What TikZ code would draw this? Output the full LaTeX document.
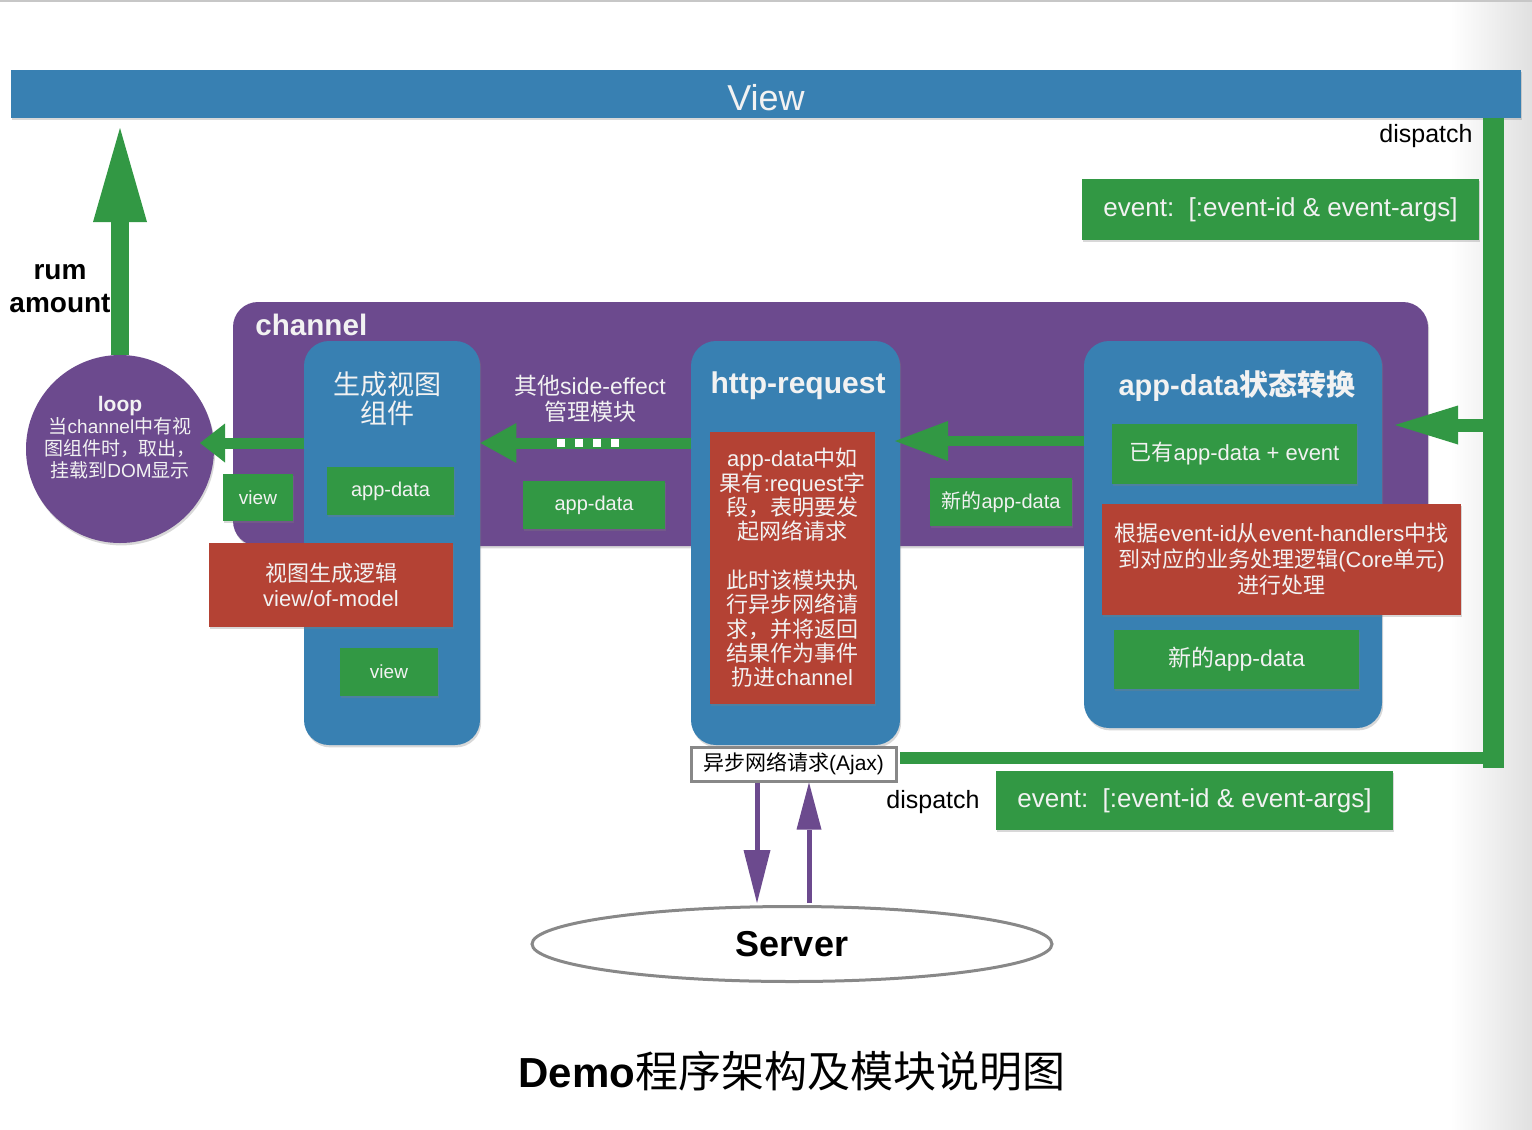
\documentclass[tikz,border=0pt]{standalone}
\usepackage{fontspec}
\setmainfont{Liberation Sans}
\newfontfamily\cjk{Noto Sans CJK SC}
\usetikzlibrary{arrows.meta,shadows,shapes.geometric,calc}
\newcommand\zh[1]{{\cjk #1}}
\definecolor{cblue}{RGB}{56,128,178}
\definecolor{cpurple}{RGB}{108,74,142}
\definecolor{cgreen}{RGB}{50,152,68}
\definecolor{cred}{RGB}{180,66,52}
\definecolor{ctext}{RGB}{242,242,242}
\definecolor{cgray}{RGB}{136,136,136}
\begin{document}
\begin{tikzpicture}[x=0.5pt,y=-0.5pt,
  shadowed/.style={drop shadow={shadow xshift=0.6pt,shadow yshift=-1.2pt,opacity=0.3}},
  panel/.style={rectangle, inner sep=0pt, align=center, text=ctext, shadowed},
  bluebox/.style={panel, fill=cblue, rounded corners=12.5pt},
  greenbox/.style={panel, fill=cgreen},
  redbox/.style={panel, fill=cred},
  wh/.style 2 args={minimum width=#1, minimum height=#2},
  fs/.style 2 args={font=\fontsize{#1}{#2}\selectfont},
  garrow/.style n args={3}{draw=cgreen, line width=#1, -{Triangle[width=#2,length=#3,line width=0pt]}},
  parrow/.style 2 args={draw=cpurple, line width=2.5pt, -{Triangle[width=#1,length=#2,line width=0pt]}},
  wtext/.style={text=ctext, align=center, inner sep=0pt}
]
\useasboundingbox (0,0) rectangle (1532,1130);
\fill[white] (0,0) rectangle (1532,1130);
\shade[left color=white, right color=black!12] (1450,0) rectangle (1532,1130);
\draw[black!22, line width=1pt] (0,1) -- (1532,1);

% View bar
\node[panel, fill=cblue, wh={755pt}{24pt}] (viewbar) at (766,94) {};
\node[wtext, fs={18}{20}] (viewt) at (766,98) {View};

% channel
\node[panel, fill=cpurple, rounded corners=12.5pt, wh={597.5pt}{122pt}] (channel) at (830.5,424) {};
\node[wtext, anchor=west, font=\bfseries\fontsize{14.8}{16}\selectfont] (chlabel) at (255,325) {channel};

% loop circle
\node[circle, fill=cpurple, minimum size=94pt, inner sep=0pt, shadowed] (loop) at (120,449) {};
\node[wtext, fs={9.5}{11}] (looptext) at (120,438)
  {{\bfseries\fontsize{10.5}{12}\selectfont loop}\\ \zh{当}channel\zh{中有视}\\ \zh{图组件时，取出，}\\ \zh{挂载到}DOM\zh{显示}};

% blue modules
\node[bluebox, wh={88pt}{202pt}] (box1) at (392,543) {};
\node[wtext, fs={13.5}{14.5}] (box1t) at (387,399) {\zh{生成视图}\\\zh{组件}};
\node[bluebox, wh={104.5pt}{202pt}] (http) at (795.5,543) {};
\node[wtext, font=\bfseries\fontsize{15}{17}\selectfont] (httpt) at (798,386) {http-request};
\node[bluebox, wh={149pt}{193.5pt}] (box3) at (1233,534.5) {};
\node[wtext, font=\bfseries\fontsize{14.5}{16}\selectfont] (box3t) at (1237,386) {app-data\zh{状态转换}};

% side-effect label
\node[wtext, fs={11.5}{13}] (se) at (590,399) {\zh{其他}side-effect\\\zh{管理模块}};

% green and red boxes
\node[greenbox, wh={63.5pt}{24pt}, fs={10}{12}] (ad1) at (390.5,491) {app-data};
\node[greenbox, wh={35pt}{23.5pt}, fs={9.5}{11}] (view1) at (258,497.5) {view};
\node[redbox, wh={122pt}{42pt}, fs={11}{12.5}] (red1) at (331,585) {\zh{视图生成逻辑}\\view/of-model};
\node[greenbox, wh={49pt}{24pt}, fs={9.5}{11}] (view2) at (389,672) {view};
\node[greenbox, wh={71pt}{24pt}, fs={10}{12}] (ad2) at (594,505) {app-data};
\node[redbox, wh={82.5pt}{136pt}, fs={11}{12.2}] (red2) at (792.5,568)
  {app-data\zh{中如}\\\zh{果有}:request\zh{字}\\\zh{段，表明要发}\\\zh{起网络请求}\\[12pt]\zh{此时该模块执}\\\zh{行异步网络请}\\\zh{求，并将返回}\\\zh{结果作为事件}\\\zh{扔进}channel};
\node[greenbox, wh={71pt}{24pt}, fs={10}{12}] (nad1) at (1001,502) {\zh{新的}app-data};
\node[greenbox, wh={122.5pt}{30pt}, fs={11}{13}] (had) at (1234.5,454) {\zh{已有}app-data + event};
\node[redbox, wh={179.5pt}{55.5pt}, fs={11}{13}] (red3) at (1281.5,559.5)
  {\zh{根据}event-id\zh{从}event-handlers\zh{中找}\\\zh{到对应的业务处理逻辑}(Core\zh{单元})\\\zh{进行处理}};
\node[greenbox, wh={122.5pt}{29.5pt}, fs={11.5}{13}] (nad2) at (1236.5,659.5) {\zh{新的}app-data};
\node[greenbox, wh={198.5pt}{30.5pt}, fs={13}{15}] (ev1) at (1280.5,209.5) {event:\ \ [:event-id \& event-args]};
\node[greenbox, wh={198.5pt}{29.5pt}, fs={13}{15}] (ev2) at (1194.5,800.5) {event:\ \ [:event-id \& event-args]};

% coordinates for free ends
\coordinate (vtip) at (120,128);
\coordinate (looptip) at (200,443);
\coordinate (httptip) at (895,441);
\coordinate (barA) at (1500,425);
\coordinate (b3tip) at (1395,425);
\coordinate (dashS) at (557,443);
\coordinate (dashE) at (620,443);
\coordinate (barBot) at (1493.5,768);
\coordinate (hbarS) at (900,758);
\coordinate (hbarE) at (1493.5,758);
\coordinate (downtip) at (757,903);
\coordinate (upstart) at (809,903);

% green arrows
\draw[garrow={9pt}{27pt}{47pt}] (loop.north) -- (vtip);
\draw[garrow={5.5pt}{19.5pt}{12.5pt}] (box1.west |- 0,443) -- (looptip);
\draw[garrow={5.5pt}{20pt}{18pt}] (http.west |- 0,443) -- (box1.east |- 0,443);
\draw[white, line width=4pt, dash pattern=on 4pt off 5pt] (dashS) -- (dashE);
\draw[garrow={5pt}{20pt}{26.5pt}] (box3.west |- 0,441) -- (httptip);
\draw[garrow={6.5pt}{19.5pt}{31.5pt}] (barA) -- (b3tip);

% dispatch bars
\draw[cgreen, line width=10.5pt] (viewbar.south -| 1493.5,0) -- (barBot);
\draw[cgreen, line width=6pt] (hbarS) -- (hbarE);

% Ajax and server
\node[draw=cgray, line width=1.5pt, fill=white, wh={102.5pt}{17pt}, inner sep=0pt, fs={10.5}{12}] (ajax) at (793.5,764) {\zh{异步网络请求}(Ajax)};
\node[ellipse, draw=cgray, line width=1.5pt, wh={260pt}{37.5pt}, inner sep=0pt, font=\bfseries\fontsize{18}{20}\selectfont] (server) at (792,944) {Server};
\draw[parrow={13.5pt}{26.5pt}] (ajax.south -| 757,0) -- (downtip);
\draw[parrow={12.5pt}{23.5pt}] (upstart) -- (ajax.south -| 809,0);

% free texts
\node[fs={12.5}{14}, anchor=east, inner sep=0pt] (disp1) at (1473,136) {dispatch};
\node[fs={12.5}{14}, inner sep=0pt] (disp2) at (933,802) {dispatch};
\node[font=\bfseries\fontsize{14}{16.5}\selectfont, align=center, inner sep=0pt] (rum) at (60,289) {rum\\amount};
\node[inner sep=0pt] (title) at (792,1071) {{\bfseries\fontsize{21}{24}\selectfont Demo}{\cjk\fontsize{21.5}{24}\selectfont 程序架构及模块说明图}};
\end{tikzpicture}
\end{document}
